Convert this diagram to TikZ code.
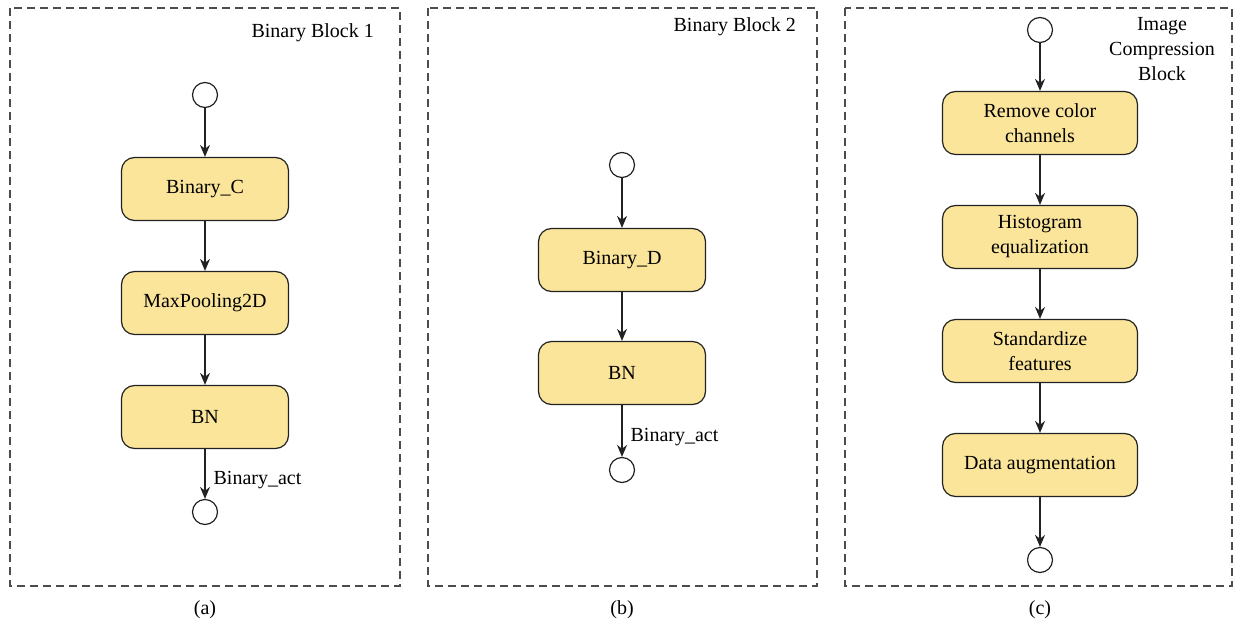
\documentclass[tikz,border=0pt]{standalone}
\usepackage{fontspec}
\setmainfont{Liberation Serif}
\usetikzlibrary{arrows.meta}
\definecolor{boxfill}{HTML}{FBE59A}
\definecolor{edge}{HTML}{222222}
\tikzset{
  stepbox/.style={draw=edge, line width=1.2pt, fill=boxfill, rounded corners=13pt, minimum width=167pt, minimum height=63pt, align=center, font=\fontsize{20}{25}\selectfont, inner sep=2pt},
  term/.style={draw=edge, line width=1.2pt, circle, minimum size=25pt, inner sep=0pt, fill=white},
  conn/.style={draw=edge, line width=1.2pt, -{Stealth[length=12pt,width=10pt]}},
  panel/.style={draw=black!70, line width=1.1pt, dash pattern=on 8pt off 5pt},
  lbl/.style={font=\fontsize{20}{25}\selectfont, inner sep=0pt},
}
\begin{document}
\begin{tikzpicture}[x=1pt,y=-1pt]
\useasboundingbox (0,0) rectangle (1236,631);
% panels
\draw[panel] (10,8) rectangle (400,586);
\draw[panel] (428,8) rectangle (817,586);
\draw[panel] (845,8) rectangle (1232,586);
\node[lbl] (capa) at (205,610) {(a)};
\node[lbl] (capb) at (622,610) {(b)};
\node[lbl] (capc) at (1040,610) {(c)};
% panel a
\node[lbl, anchor=east] (ta) at (374,33) {Binary Block 1};
\node[term] (a0) at (205,95) {};
\node[stepbox] (a1) at (205,189) {Binary\_C};
\node[stepbox] (a2) at (205,303) {MaxPooling2D};
\node[stepbox] (a3) at (205,417) {BN};
\node[term] (a4) at (205,512) {};
\draw[conn] (a0) -- (a1);
\draw[conn] (a1) -- (a2);
\draw[conn] (a2) -- (a3);
\draw[conn] (a3) -- node[lbl, anchor=west, xshift=8pt, yshift=-6pt] {Binary\_act} (a4);
% panel b
\node[lbl, anchor=east] (tb) at (796,27) {Binary Block 2};
\node[term] (b0) at (622,165) {};
\node[stepbox] (b1) at (622,260) {Binary\_D};
\node[stepbox] (b2) at (622,373) {BN};
\node[term] (b3) at (622,470) {};
\draw[conn] (b0) -- (b1);
\draw[conn] (b1) -- (b2);
\draw[conn] (b2) -- node[lbl, anchor=west, xshift=8pt, yshift=-6pt] {Binary\_act} (b3);
% panel c
\node[lbl, align=center] (tc) at (1162,49) {Image\\Compression\\Block};
\node[term] (c0) at (1040,30) {};
\node[stepbox, minimum width=195pt] (c1) at (1040,123) {Remove color\\channels};
\node[stepbox, minimum width=195pt] (c2) at (1040,237) {Histogram\\equalization};
\node[stepbox, minimum width=195pt] (c3) at (1040,351) {Standardize\\features};
\node[stepbox, minimum width=195pt] (c4) at (1040,465) {Data augmentation};
\node[term] (c5) at (1040,560) {};
\draw[conn] (c0) -- (c1);
\draw[conn] (c1) -- (c2);
\draw[conn] (c2) -- (c3);
\draw[conn] (c3) -- (c4);
\draw[conn] (c4) -- (c5);
\end{tikzpicture}
\end{document}
